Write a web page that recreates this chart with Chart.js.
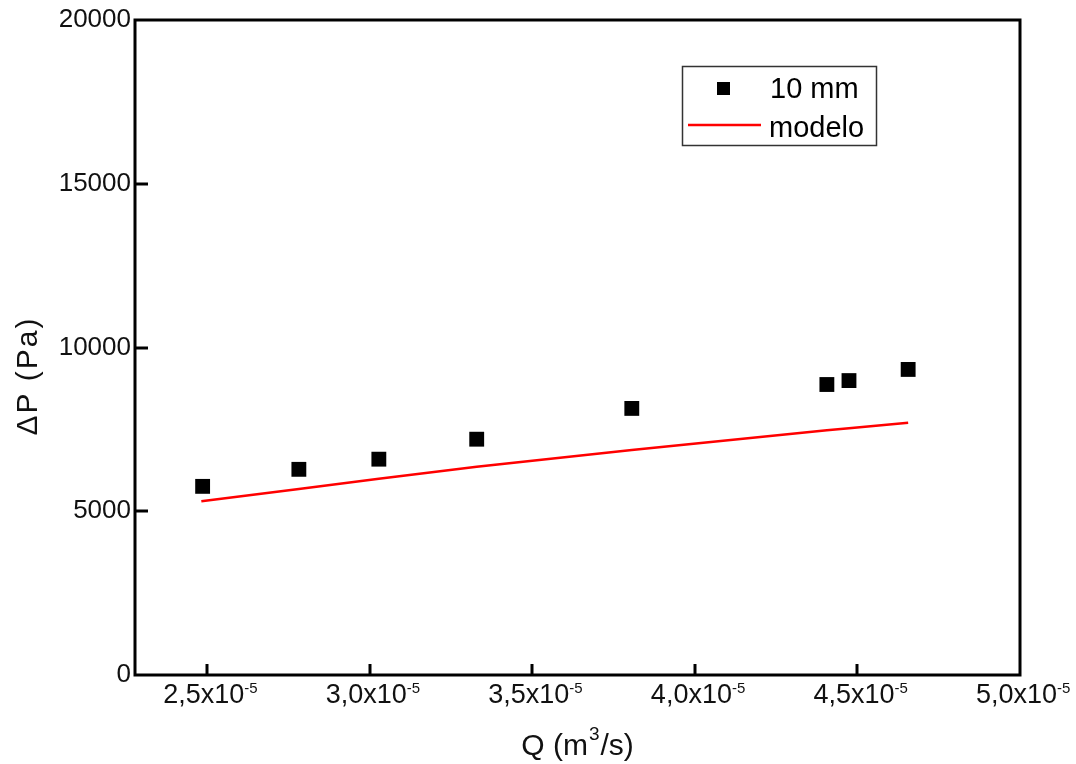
<!DOCTYPE html>
<html>
<head>
<meta charset="utf-8">
<script src="https://cdn.jsdelivr.net/npm/chart.js@4"></script>
<style>
  html, body { margin:0; padding:0; background:#fff; }
  #wrap { width:1076px; height:764px; }
</style>
</head>
<body>
<div id="wrap"><canvas id="graf" width="1076" height="764"></canvas></div>
<script>
// dados
const vazao = [2.486e-5, 2.782e-5, 3.028e-5, 3.329e-5, 3.806e-5, 4.406e-5, 4.474e-5, 4.656e-5];
const dpExp = [5760, 6280, 6590, 7200, 8140, 8870, 8990, 9330];
const vazaoModelo = [2.482e-5, 2.782e-5, 3.028e-5, 3.329e-5, 3.806e-5, 4.406e-5, 4.474e-5, 4.656e-5];
const dpModelo = [5305, 5680, 5990, 6360, 6870, 7470, 7535, 7705];
const xTicks = [2.5e-5, 3.0e-5, 3.5e-5, 4.0e-5, 4.5e-5, 5.0e-5];
const xTickLabels = ["2,5x10", "3,0x10", "3,5x10", "4,0x10", "4,5x10", "5,0x10"];
const xTickExp = "-5";
const yTicks = [0, 5000, 10000, 15000, 20000];

const pontos = vazao.map((x, i) => ({x, y: dpExp[i]}));
const linha = vazaoModelo.map((x, i) => ({x, y: dpModelo[i]}));

const fonte = "'Liberation Sans', Arial, sans-serif";

// moldura, ticks para dentro, rótulos e legenda
const moldura = {
  id: "moldura",
  afterDatasetsDraw(chart) {
    const ctx = chart.ctx;
    const a = chart.chartArea;
    const sx = chart.scales.x, sy = chart.scales.y;
    ctx.save();
    ctx.strokeStyle = "#000";
    ctx.lineWidth = 3;
    ctx.strokeRect(a.left, a.top, a.right - a.left, a.bottom - a.top);
    xTicks.forEach(v => {
      const px = Math.round(sx.getPixelForValue(v));
      if (px >= a.right - 1) return;
      ctx.beginPath();
      ctx.moveTo(px, a.bottom);
      ctx.lineTo(px, a.bottom - 11);
      ctx.stroke();
    });
    yTicks.forEach(v => {
      const py = Math.round(sy.getPixelForValue(v));
      if (py <= a.top + 1 || py >= a.bottom - 1) return;
      ctx.beginPath();
      ctx.moveTo(a.left, py);
      ctx.lineTo(a.left + 13, py);
      ctx.stroke();
    });

    // rótulos do eixo x com expoente
    ctx.fillStyle = "#111";
    ctx.textBaseline = "alphabetic";
    ctx.textAlign = "left";
    xTicks.forEach((v, i) => {
      const px = sx.getPixelForValue(v);
      ctx.font = "27px " + fonte;
      ctx.fillText(xTickLabels[i], px - 44, 703);
      const w = ctx.measureText(xTickLabels[i]).width;
      ctx.font = "15px " + fonte;
      ctx.fillText(xTickExp, px - 44 + w, 693);
    });

    // título do eixo x
    const p1 = "Q (m", p2 = "/s)";
    ctx.font = "30px " + fonte;
    const w1 = ctx.measureText(p1).width, w2 = ctx.measureText(p2).width;
    ctx.font = "19px " + fonte;
    const w3 = ctx.measureText("3").width;
    const x0 = (a.left + a.right) / 2 - (w1 + w2 + w3 + 2) / 2;
    ctx.font = "30px " + fonte;
    ctx.fillText(p1, x0, 755);
    ctx.font = "19px " + fonte;
    ctx.fillText("3", x0 + w1 + 1, 740);
    ctx.font = "30px " + fonte;
    ctx.fillText(p2, x0 + w1 + w3 + 2, 755);

    // título do eixo y
    ctx.save();
    ctx.translate(29, 376);
    ctx.rotate(-Math.PI / 2);
    ctx.font = "30px " + fonte;
    ctx.letterSpacing = "2px";
    ctx.textAlign = "center";
    ctx.textBaseline = "middle";
    ctx.fillText("\u0394P (Pa)", 0, 0);
    ctx.restore();

    // legenda
    ctx.lineWidth = 1.5;
    ctx.strokeStyle = "#333";
    ctx.strokeRect(682.5, 66.5, 194, 79);
    ctx.fillStyle = "#000";
    ctx.fillRect(717, 82, 13, 13);
    ctx.strokeStyle = "#ff0000";
    ctx.lineWidth = 2.5;
    ctx.beginPath();
    ctx.moveTo(688, 125);
    ctx.lineTo(761, 125);
    ctx.stroke();
    ctx.font = "29px " + fonte;
    ctx.fillStyle = "#000";
    ctx.textAlign = "left";
    ctx.textBaseline = "alphabetic";
    ctx.fillText(chart.data.datasets[0].label, 770, 98);
    ctx.fillText(chart.data.datasets[1].label, 769, 137);
    ctx.restore();
  }
};

new Chart(document.getElementById("graf"), {
  type: "scatter",
  data: {
    datasets: [{
      label: "10 mm",
      data: pontos,
      pointStyle: "rect",
      pointRadius: 10.5,
      pointHoverRadius: 10.5,
      backgroundColor: "#000",
      borderColor: "#000",
      borderWidth: 0
    }, {
      label: "modelo",
      data: linha,
      showLine: true,
      borderColor: "#ff0000",
      borderWidth: 2.5,
      pointRadius: 0,
      pointHoverRadius: 0,
      fill: false
    }]
  },
  options: {
    responsive: false,
    animation: false,
    devicePixelRatio: 1,
    layout: { padding: { top: 20, right: 56, left: 0, bottom: 0 } },
    plugins: { legend: { display: false }, tooltip: { enabled: false } },
    scales: {
      x: {
        type: "linear",
        min: 2.278e-5,
        max: 5.0e-5,
        afterBuildTicks: s => { s.ticks = xTicks.map(v => ({value: v})); },
        afterFit: s => { s.height = 89; },
        grid: { display: false, drawTicks: false },
        border: { display: false },
        ticks: { display: false }
      },
      y: {
        min: 0,
        max: 20000,
        afterBuildTicks: s => { s.ticks = yTicks.map(v => ({value: v})); },
        afterFit: s => { s.width = 135; },
        grid: { display: false, drawTicks: false },
        border: { display: false },
        ticks: {
          padding: 4,
          color: "#111",
          font: { family: fonte, size: 26 },
          callback: v => String(v)
        }
      }
    }
  },
  plugins: [moldura]
});
</script>
</body>
</html>
